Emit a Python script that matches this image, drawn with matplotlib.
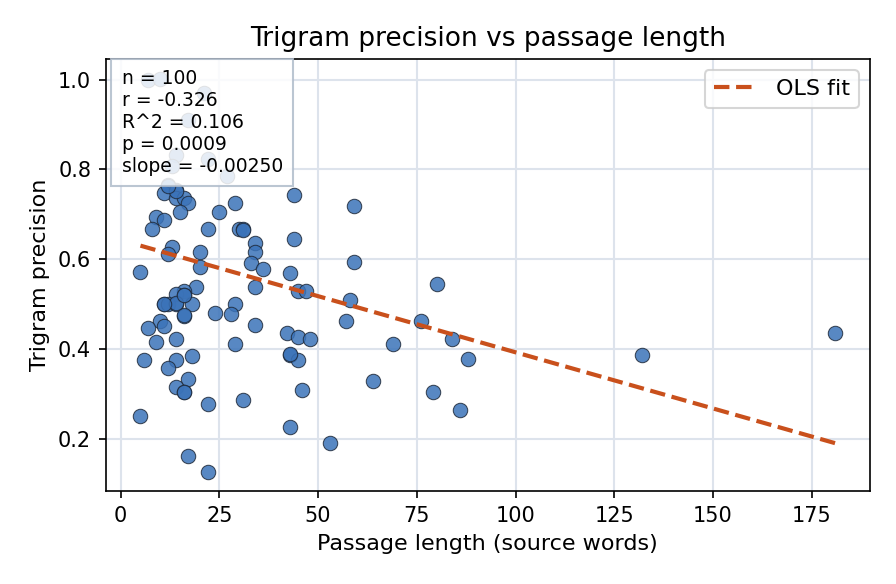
import numpy as np
import matplotlib.pyplot as plt

# passage length (source words) and trigram precision
length = np.array([
    7, 10, 21, 17, 14, 13, 22, 27, 12, 14,
    11, 14, 16, 17, 29, 44, 25, 15, 9, 11,
    8, 22, 30, 31, 44, 34, 34, 33, 36, 43,
    13, 12, 20, 20, 5, 45, 47, 34, 19, 16,
    14, 16, 11, 12, 14, 18, 16, 29, 24, 28,
    10, 11, 7, 34, 42, 45, 48, 9, 14, 29,
    6, 14, 12, 18, 43, 45, 17, 14, 16, 22,
    31, 46, 5, 43, 17, 22, 59, 59, 80, 58,
    57, 76, 84, 88, 69, 64, 79, 86, 53, 132,
    181, 16, 14, 16, 14, 31, 16, 12, 11, 43,
])
precision = np.array([
    0.998, 1.002, 0.971, 0.909, 0.833, 0.808, 0.824, 0.786, 0.764, 0.753,
    0.748, 0.737, 0.737, 0.726, 0.726, 0.742, 0.706, 0.706, 0.693, 0.688,
    0.666, 0.666, 0.666, 0.666, 0.644, 0.637, 0.615, 0.592, 0.577, 0.568,
    0.626, 0.612, 0.615, 0.583, 0.572, 0.530, 0.528, 0.537, 0.537, 0.530,
    0.523, 0.521, 0.501, 0.501, 0.501, 0.501, 0.474, 0.501, 0.481, 0.477,
    0.463, 0.452, 0.447, 0.454, 0.436, 0.427, 0.421, 0.416, 0.421, 0.412,
    0.376, 0.376, 0.358, 0.385, 0.387, 0.376, 0.334, 0.316, 0.305, 0.278,
    0.287, 0.309, 0.251, 0.227, 0.162, 0.127, 0.719, 0.594, 0.545, 0.508,
    0.463, 0.463, 0.423, 0.378, 0.410, 0.329, 0.305, 0.263, 0.191, 0.387,
    0.436, 0.476, 0.503, 0.519, 0.751, 0.664, 0.303, 0.762, 0.499, 0.389,
])

# fit reported in the chart
fit_slope = -0.00250
fit_intercept = 0.6425
stats_text = "n = 100\nr = -0.326\nR^2 = 0.106\np = 0.0009\nslope = -0.00250"

x_fit = np.linspace(length.min(), length.max(), 50)
y_fit = fit_slope * x_fit + fit_intercept

fig = plt.figure(figsize=(896 / 150, 584 / 150), dpi=150)
ax = fig.add_axes([0.118, 0.159, 0.853, 0.740])

ax.grid(True, color='#dde3ec', linewidth=1.0)
ax.set_axisbelow(True)

ax.scatter(length, precision, s=48, c='#3b73b9', alpha=0.85,
           edgecolors='#1f2a3a', linewidths=0.5, zorder=2)
ax.plot(x_fit, y_fit, '--', color='#c9501c', linewidth=2, label='OLS fit', zorder=3)

ax.set_title('Trigram precision vs passage length', fontsize=12.7)
ax.set_xlabel('Passage length (source words)', fontsize=10.7)
ax.set_ylabel('Trigram precision', fontsize=10.7)
ax.tick_params(labelsize=10)

ax.text(0.021, 0.977, stats_text, transform=ax.transAxes, va='top', ha='left',
        fontsize=9, zorder=5,
        bbox=dict(boxstyle='square,pad=0.55', facecolor='white',
                  edgecolor='#b0bccb', alpha=0.85))

ax.legend(loc='upper right', fontsize=10.7)

fig.savefig('out.png', dpi=150)
